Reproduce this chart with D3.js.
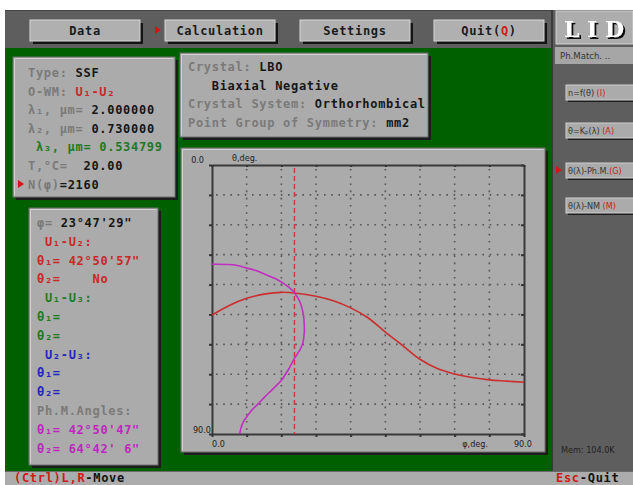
<!DOCTYPE html>
<html><head><meta charset="utf-8">
<script src="https://cdn.jsdelivr.net/npm/d3@7"></script>
<style>
html,body{margin:0;padding:0;background:#fff;}
svg{display:block;font-family:"DejaVu Sans Mono",monospace;font-weight:bold;}
</style></head><body>
<svg id="c" width="633" height="485">
<defs><filter id="sh" x="-20%" y="-20%" width="160%" height="160%"><feDropShadow dx="2" dy="2" stdDeviation="0" flood-color="#111" flood-opacity="1"/></filter></defs>
</svg>
<script>
// ---------------- data ----------------
const menuItems = ["Data", "Calculation", "Settings", "Quit(Q)"];
const sideItems = [["n=f(θ) ", "(I)"], ["θ=Kₚ(λ) ", "(A)"], ["θ(λ)-Ph.M.", "(G)"], ["θ(λ)-NM ", "(M)"]];
const typeLines = [
  [["Type: ", "lab"], ["SSF", "val"]],
  [["O-WM: ", "lab"], ["U₁-U₂", "red"]],
  [["λ₁, μm= ", "lab"], ["2.000000", "val"]],
  [["λ₂, μm= ", "lab"], ["0.730000", "val"]],
  [[" λ₃, μm= 0.534799", "grn"]],
  [["T,°C=  ", "lab"], ["20.00", "val"]],
  [["N(φ)", "lab"], ["=2160", "val"]]
];
const crystalLines = [
  [["Crystal: ", "lab"], ["LBO", "val"]],
  [["   Biaxial Negative", "val"]],
  [["Crystal System: ", "lab"], ["Orthorhombical", "val"]],
  [["Point Group of Symmetry: ", "lab"], ["mm2", "val"]]
];
const resultLines = [
  [["φ= ", "lab"], ["23°47'29\"", "val"]],
  [[" U₁-U₂:", "red"]],
  [["θ₁= 42°50'57\"", "red"]],
  [["θ₂=    No", "red"]],
  [[" U₁-U₃:", "grn"]],
  [["θ₁=", "grn"]],
  [["θ₂=", "grn"]],
  [[" U₂-U₃:", "blu"]],
  [["θ₁=", "blu"]],
  [["θ₂=", "blu"]],
  [["Ph.M.Angles:", "lab"]],
  [["θ₁= 42°50'47\"", "mag"]],
  [["θ₂= 64°42' 6\"", "mag"]]
];
const xTicks = [0, 10, 20, 30, 40, 50, 60, 70, 80, 90];
const yTicks = [0, 10, 20, 30, 40, 50, 60, 70, 80, 90];
// red curve: theta (deg) vs phi (deg)
const redPhi   = [0, 5, 10, 15, 20, 25, 30, 35, 40, 45, 50, 55, 60, 65, 70, 75, 80, 85, 90];
const redTheta = [50.2, 47.0, 44.6, 43.2, 42.6, 43.0, 43.9, 45.4, 47.8, 51.1, 55.9, 60.4, 65.0, 68.1, 69.9, 71.1, 71.9, 72.3, 72.7];
// magenta phase-matching locus
const magPhi   = [0, 5, 8, 10, 12.4, 15.8, 18.2, 20.6, 22.3, 23.8, 25.3, 26.3, 26.6, 26.6, 26.2, 25.4, 23.8, 22.0, 20.1, 17.5, 15.3, 13.2, 11.5, 10.0, 9.0, 8.3, 8.0];
const magTheta = [33.2, 33.3, 33.8, 34.5, 35.2, 36.8, 38.0, 39.6, 41.0, 42.8, 45.6, 49.6, 53.0, 56.3, 59.5, 61.8, 64.7, 68.5, 71.9, 75.0, 77.5, 80.0, 82.0, 84.3, 86.0, 88.2, 90.0];
const cursorPhi = 23.79;

// ---------------- drawing ----------------
const C = {lab:"#7a7a7a", val:"#161616", red:"#c82828", grn:"#1f7a1f", blu:"#2424c0", mag:"#c026c0"};
const svg = d3.select("#c");
const panelFill = "#ababab";
const COND = "DejaVu Sans Condensed, DejaVu Sans, sans-serif";

function panel(x, y, w, h, sh) {
  sh = sh || 3;
  svg.append("rect").attr("x", x + sh).attr("y", y + sh).attr("width", w).attr("height", h).attr("fill", "#1c1c1c");
  svg.append("rect").attr("x", x).attr("y", y).attr("width", w).attr("height", h)
    .attr("fill", panelFill).attr("stroke", "#707070").attr("stroke-width", 1);
  svg.append("path").attr("d", `M${x+1.5},${y+h-1.5}V${y+1.5}H${x+w-1.5}`).attr("fill", "none").attr("stroke", "#d2d2d2");
}
function lines(data, x0, y0, step) {
  data.forEach((segs, i) => {
    const t = svg.append("text").attr("x", x0).attr("y", y0 + i * step)
      .attr("font-size", 12).attr("letter-spacing", 0.7).attr("xml:space", "preserve").style("white-space", "pre");
    segs.forEach(s => t.append("tspan").attr("fill", C[s[1]]).text(s[0]));
  });
}
function arrow(x, y) {
  svg.append("path").attr("d", `M${x},${y-4}L${x+6},${y}L${x},${y+4}Z`).attr("fill", "#d01818");
}

// backgrounds
svg.append("rect").attr("x", 5).attr("y", 10).attr("width", 628).attr("height", 475).attr("fill", "#5e5e5e");
svg.append("rect").attr("x", 5).attr("y", 48).attr("width", 546).attr("height", 423).attr("fill", "#006000");
svg.append("rect").attr("x", 551).attr("y", 10).attr("width", 2).attr("height", 461).attr("fill", "#3a3a3a");
svg.append("rect").attr("x", 5).attr("y", 10).attr("width", 546).attr("height", 1).attr("fill", "#444");

// menu buttons
const menuX = [30, 165, 300, 434];
menuItems.forEach((m, i) => {
  const bx = menuX[i], by = 20, bw = 110, bh = 21;
  svg.append("rect").attr("x", bx + 3).attr("y", by + 3).attr("width", bw).attr("height", bh).attr("fill", "#141414");
  svg.append("rect").attr("x", bx).attr("y", by).attr("width", bw).attr("height", bh).attr("fill", "#b0b0b0").attr("stroke", "#d8d8d8");
  const t = svg.append("text").attr("x", bx + bw / 2).attr("y", by + 15).attr("text-anchor", "middle")
    .attr("font-size", 12).attr("letter-spacing", 0.7).attr("fill", "#1a1a1a");
  if (m === "Quit(Q)") {
    t.append("tspan").text("Quit(");
    t.append("tspan").attr("fill", "#d01818").text("Q");
    t.append("tspan").text(")");
  } else t.text(m);
});
arrow(155, 30);

// LID logo
svg.append("rect").attr("x", 556).attr("y", 11).attr("width", 77).attr("height", 33).attr("fill", "#adadad").attr("stroke", "#d0d0d0");
svg.append("text").attr("x", 594).attr("y", 37).attr("text-anchor", "middle").attr("font-family", "DejaVu Serif, serif")
  .attr("font-weight", "bold").attr("font-size", 22).attr("fill", "#fff").attr("filter", "url(#sh)")
  .attr("xml:space", "preserve").style("white-space", "pre").text("L I D");

// right side panel
svg.append("rect").attr("x", 555).attr("y", 47).attr("width", 78).attr("height", 17).attr("fill", "#a6a6a6");
svg.append("text").attr("x", 560).attr("y", 59).attr("font-family", COND).attr("font-weight", "normal")
  .attr("font-size", 9.5).attr("fill", "#333").text("Ph.Match. ..");
const sideY = [85, 123, 163, 198];
sideItems.forEach((s, i) => {
  const by = sideY[i];
  svg.append("rect").attr("x", 568).attr("y", by + 2).attr("width", 70).attr("height", 15).attr("fill", "#1c1c1c");
  svg.append("rect").attr("x", 566).attr("y", by).attr("width", 70).attr("height", 15).attr("fill", "#ababab").attr("stroke", "#cfcfcf");
  const t = svg.append("text").attr("x", 568).attr("y", by + 11).attr("font-family", COND)
    .attr("font-weight", "normal").attr("font-size", 9).attr("fill", "#333").attr("xml:space", "preserve").style("white-space", "pre");
  t.append("tspan").text(s[0]);
  t.append("tspan").attr("fill", "#d01818").text(s[1]);
});
arrow(556, 170);
svg.append("text").attr("x", 561).attr("y", 453).attr("font-family", COND).attr("font-weight", "normal")
  .attr("font-size", 9).attr("fill", "#222").text("Mem: 104.0K");

// status bar
svg.append("rect").attr("x", 5).attr("y", 471).attr("width", 628).attr("height", 14).attr("fill", "#acacac");
svg.append("rect").attr("x", 5).attr("y", 471).attr("width", 628).attr("height", 1).attr("fill", "#6a6a6a");
const st1 = svg.append("text").attr("x", 14).attr("y", 482).attr("font-size", 12).attr("letter-spacing", 0.7);
st1.append("tspan").attr("fill", "#d01818").text("(Ctrl)L,R");
st1.append("tspan").attr("fill", "#111").text("-Move");
const st2 = svg.append("text").attr("x", 556).attr("y", 482).attr("font-size", 12).attr("letter-spacing", 0.7);
st2.append("tspan").attr("fill", "#d01818").text("Esc");
st2.append("tspan").attr("fill", "#111").text("-Quit");

// info panels
panel(13, 57, 162, 140);
lines(typeLines, 28, 77, 18.6);
arrow(18, 184);
panel(180, 53, 248, 84);
lines(crystalLines, 188, 71, 18.7);
panel(29, 208, 129, 257);
lines(resultLines, 37, 227, 18.8);

// chart panel
panel(181, 148, 364, 304);
const x = d3.scaleLinear().domain([0, 90]).range([212, 524]);
const y = d3.scaleLinear().domain([0, 90]).range([165, 434]);
const grid = svg.append("g").attr("stroke", "#555").attr("stroke-width", 1.6).attr("stroke-dasharray", "1.6,5.6");
grid.selectAll("line.v").data(xTicks.slice(1, -1)).join("line")
  .attr("x1", d => x(d)).attr("x2", d => x(d)).attr("y1", y(0) + 4).attr("y2", y(90));
grid.selectAll("line.h").data(yTicks.slice(1, -1)).join("line")
  .attr("y1", d => y(d)).attr("y2", d => y(d)).attr("x1", x(0) + 4).attr("x2", x(90));

function styleAxis(g) {
  g.select(".domain").attr("stroke", "#3a3a3a").attr("stroke-width", 2);
  g.selectAll(".tick line").attr("stroke", "#333").attr("stroke-width", 2);
  g.selectAll(".tick text").remove();
}
svg.append("g").attr("transform", `translate(${x(0)},0)`).call(d3.axisLeft(y).tickValues(yTicks).tickSize(3).tickSizeOuter(0)).call(styleAxis);
svg.append("g").attr("transform", `translate(${x(90)},0)`).call(d3.axisLeft(y).tickValues(yTicks).tickSize(3).tickSizeOuter(0)).call(styleAxis);
svg.append("g").attr("transform", `translate(0,${y(0)})`).call(d3.axisBottom(x).tickValues(xTicks).tickSize(2).tickSizeOuter(0)).call(styleAxis);
svg.append("g").attr("transform", `translate(0,${y(90)})`).call(d3.axisBottom(x).tickValues(xTicks).tickSize(3).tickSizeOuter(0)).call(styleAxis);

// axis labels
function stxt(tx, ty, s, anchor) {
  svg.append("text").attr("x", tx).attr("y", ty).attr("text-anchor", anchor || "start")
    .attr("font-family", COND).attr("font-weight", "normal").attr("font-size", 9).attr("fill", "#222").text(s);
}
stxt(x(0) - 8, y(0) - 2, "0.0", "end");
stxt(x(0) + 20, y(0) - 4, "θ,deg.");
stxt(x(0) - 1, y(90) - 1, "90.0", "end");
stxt(x(0), y(90) + 13, "0.0");
stxt(x(90) - 36, y(90) + 13, "φ,deg.", "end");
stxt(x(90) + 8, y(90) + 13, "90.0", "end");

// curves
svg.append("line").attr("x1", x(cursorPhi)).attr("x2", x(cursorPhi)).attr("y1", y(0) + 3).attr("y2", y(90))
  .attr("stroke", "#d23a3a").attr("stroke-width", 1.5).attr("stroke-dasharray", "5,3");
const redData = redPhi.map((p, i) => [p, redTheta[i]]);
const magData = magPhi.map((p, i) => [p, magTheta[i]]);
const line = d3.line().x(d => x(d[0])).y(d => y(d[1])).curve(d3.curveCatmullRom);
svg.append("path").attr("d", line(redData)).attr("fill", "none").attr("stroke", "#cc2e2e").attr("stroke-width", 1.6);
svg.append("path").attr("d", line(magData)).attr("fill", "none").attr("stroke", "#c22ec2").attr("stroke-width", 1.6);
</script>
</body></html>
